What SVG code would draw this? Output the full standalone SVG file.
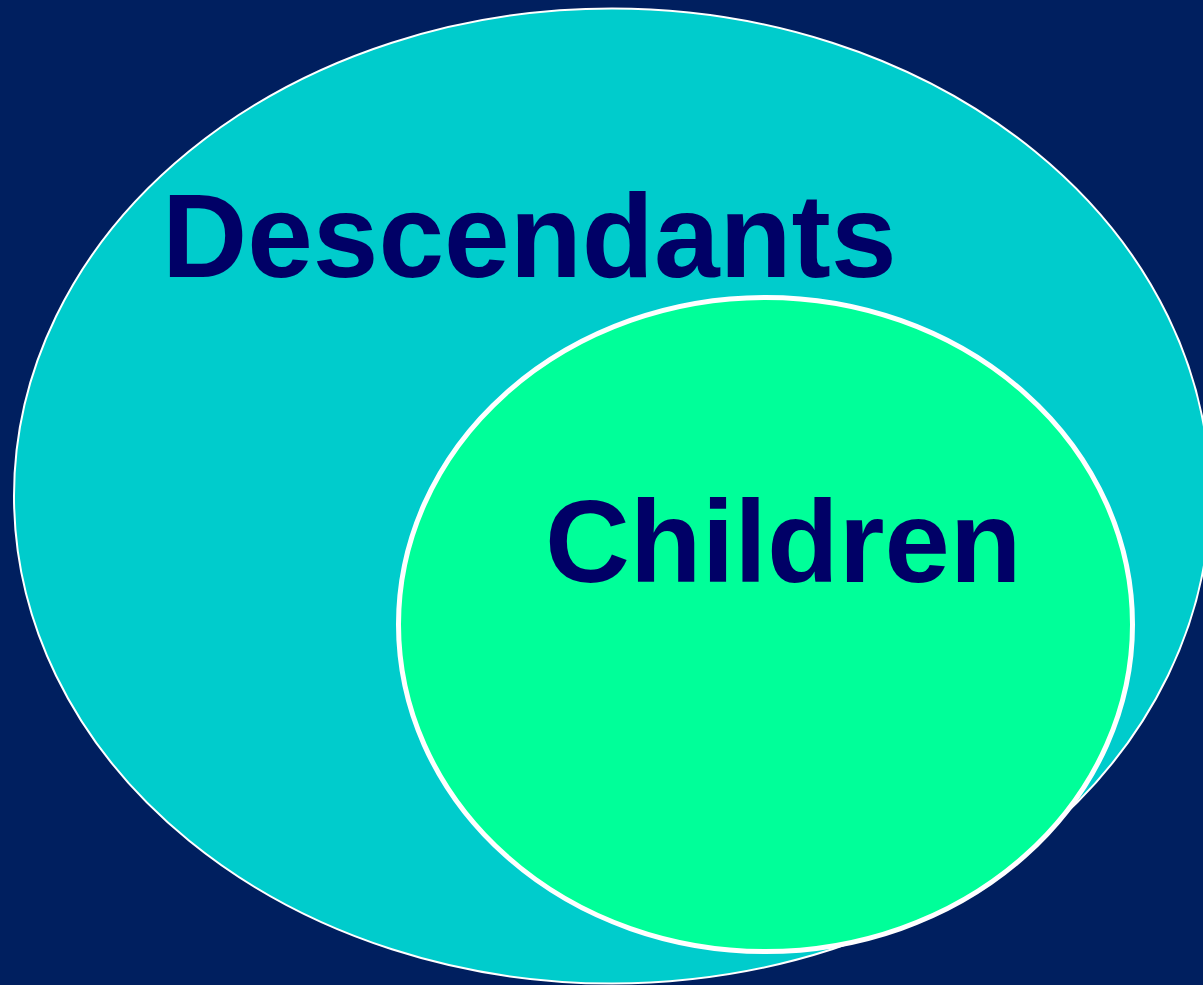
<svg xmlns="http://www.w3.org/2000/svg" width="1203" height="985" viewBox="0 0 1203 985">
<style>
.lbl{font-family:"Liberation Sans",Arial,sans-serif;font-weight:bold;fill:#000066}
</style>
<rect x="0" y="0" width="1203" height="985" fill="#001F5F"/>
<g id="descendants">
<ellipse cx="612" cy="496" rx="598" ry="487.5" fill="#00CCCC" stroke="#FFFFFF" stroke-width="2"/>
<text class="lbl" x="162" y="277" font-size="118">Descendants</text>
</g>
<g id="children">
<ellipse cx="765.5" cy="624.5" rx="367" ry="327" fill="#00FF99" stroke="#FFFFFF" stroke-width="5"/>
<text class="lbl" x="545" y="582" font-size="117.5">Children</text>
</g>
<g id="connectors"></g>
</svg>
